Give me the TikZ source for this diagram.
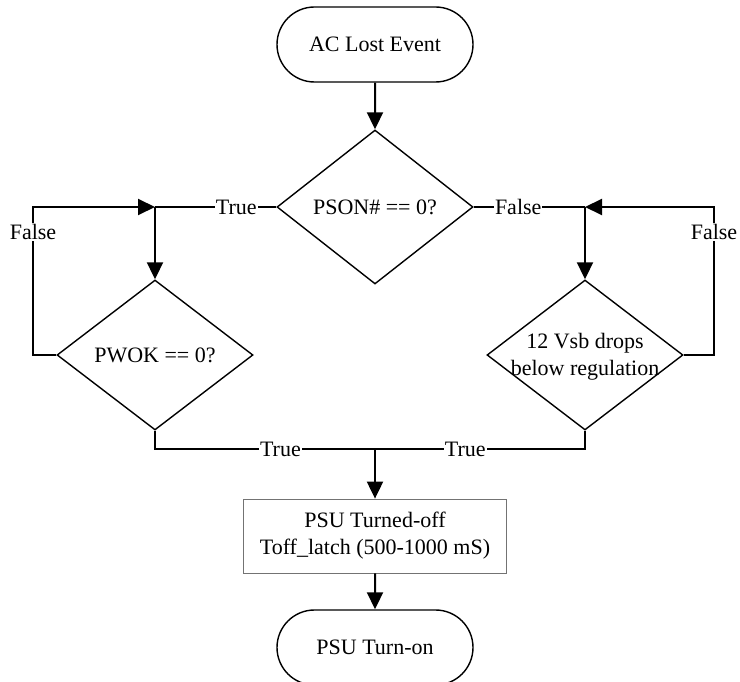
\documentclass[tikz,border=0pt]{standalone}
\usepackage{fontspec}
\setmainfont{Liberation Serif}
\usetikzlibrary{shapes.geometric,shapes.misc,arrows.meta}
\begin{document}
\begin{tikzpicture}[x=1pt,y=-1pt,
  every node/.style={font=\fontsize{22}{27}\selectfont},
  term/.style={draw,line width=1.4pt,rounded rectangle,minimum width=196pt,minimum height=75pt,inner sep=0pt},
  decision/.style={draw,line width=1.4pt,diamond,minimum width=196pt,minimum height=150pt,inner sep=0pt},
  procbox/.style={draw=black!55,line width=0.8pt,rectangle,minimum width=263pt,minimum height=74pt,align=center,inner sep=0pt},
  flow/.style={line width=2pt,-{Triangle[length=17pt,width=16pt]}},
  wire/.style={line width=2pt},
  lab/.style={fill=white,inner sep=1pt}
]
\useasboundingbox (0,0) rectangle (740,682);

\node[term] (start) at (375,44.5) {AC Lost Event};
\node[decision,minimum height=154pt,label={center:PSON\# == 0?}] (pson) at (375,207) {};
\node[decision,label={center:PWOK == 0?}] (pwok) at (155,355) {};
\node[decision,label={[align=center,yshift=-2pt]center:12 Vsb drops\\below regulation}] (vsb) at (585,355) {};
\node[procbox] (off) at (375,536) {PSU Turned-off\\Toff\_latch (500-1000 mS)};
\node[term] (on) at (375,647.5) {PSU Turn-on};

\coordinate (jl) at (155,207);
\coordinate (jr) at (585,207);
\coordinate (ll1) at (33,355);
\coordinate (ll2) at (33,207);
\coordinate (rl1) at (714,355);
\coordinate (rl2) at (714,207);
\coordinate (bl) at (155,449);
\coordinate (br) at (585,449);
\coordinate (jb) at (375,449);

\draw[flow] (start) -- (pson);

\draw[wire] (pson.west) -- node[lab,pos=0.33]{True} (jl);
\draw[flow] (jl) -- (pwok.north);
\draw[flow] (pwok.west) -- (ll1) -- node[lab,pos=0.83]{False} (ll2) -- (jl);

\draw[wire] (pson.east) -- node[lab,pos=0.4]{False} (jr);
\draw[flow] (jr) -- (vsb.north);
\draw[flow] (vsb.east) -- (rl1) -- node[lab,pos=0.83]{False} (rl2) -- (jr);

\draw[wire] (pwok.south) -- (bl) -- node[lab,pos=0.57]{True} (jb);
\draw[wire] (vsb.south) -- (br) -- node[lab,pos=0.57]{True} (jb);
\draw[flow] (jb) -- (off.north);
\draw[flow] (off) -- (on);
\end{tikzpicture}
\end{document}
